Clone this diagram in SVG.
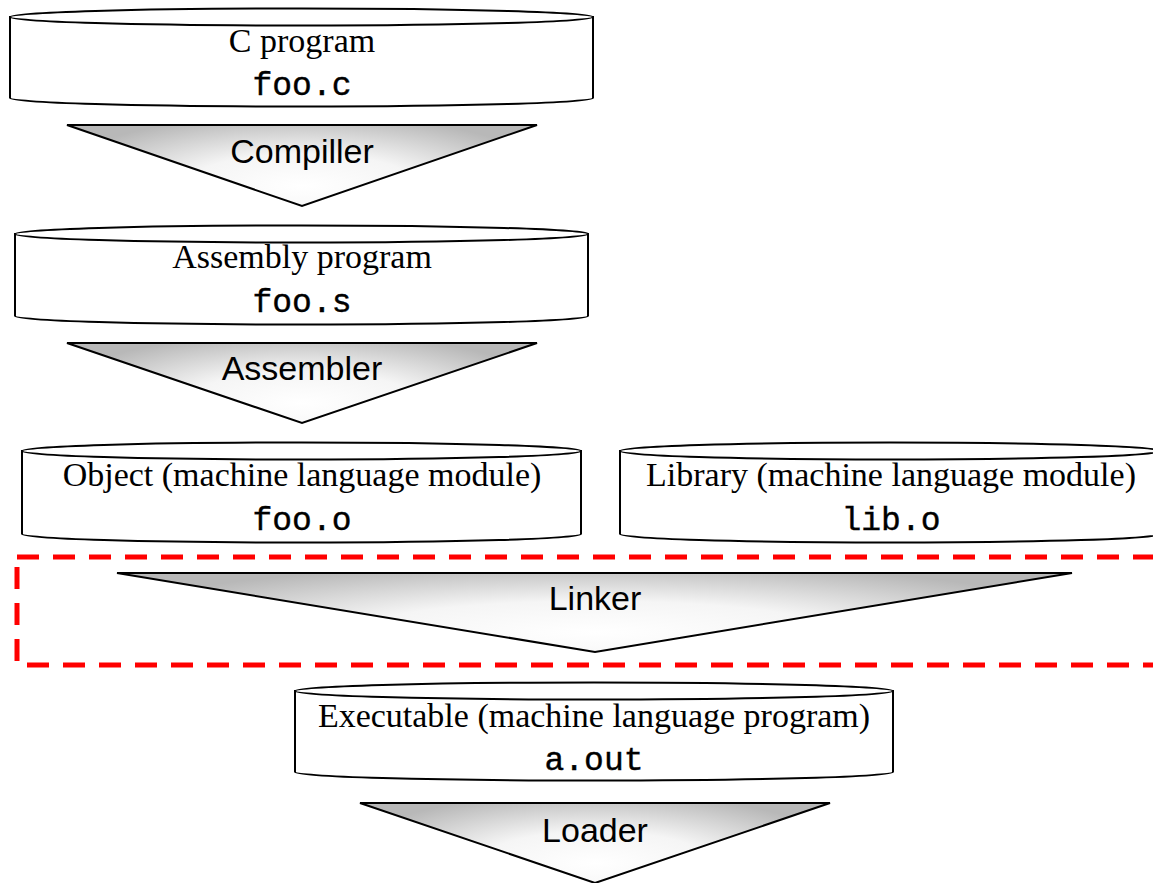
<svg xmlns="http://www.w3.org/2000/svg" width="1153" height="883" viewBox="0 0 1153 883">
<defs>
<radialGradient id="tg" cx="0.5" cy="0.75" r="0.55" gradientTransform="translate(0.5 0.75) scale(1 1.6) translate(-0.5 -0.75)">
<stop offset="0" stop-color="#ffffff"/>
<stop offset="0.45" stop-color="#f5f5f5"/>
<stop offset="1" stop-color="#b8b8b8"/>
</radialGradient>
<style>
.cyl{fill:#fff;stroke:#000;stroke-width:2}
.tri{fill:url(#tg);stroke:#000;stroke-width:2;stroke-linejoin:miter}
.serif{font-family:"Liberation Serif","Times New Roman",serif;font-size:34px;fill:#000;text-anchor:middle}
.mono{font-family:"Liberation Mono","Courier New",monospace;font-size:33px;fill:#000;stroke:#000;stroke-width:0.4;text-anchor:middle}
.sans{font-family:"Liberation Sans",Arial,sans-serif;font-size:34px;fill:#000;text-anchor:middle}
.frame{fill:none;stroke:#ff0000;stroke-width:5;stroke-dasharray:22 14}
</style>
</defs>
<rect width="1153" height="883" fill="#fff"/>
<g id="linker-frame"><rect class="frame" x="17" y="557" width="1150" height="108"/></g>
<g id="c-program">
<path class="cyl" d="M10,17 L10,98 A291.5,8.5 0 0 0 593,98 L593,17 Z"/>
<ellipse class="cyl" cx="301.5" cy="17" rx="291.5" ry="8.5"/>
<text class="serif" x="302" y="52">C program</text>
<text class="mono" x="302" y="95">foo.c</text>
</g>
<g id="compiler">
<polygon class="tri" points="67,125 537,125 302,206"/>
<text class="sans" x="302" y="163">Compiller</text>
</g>
<g id="assembly-program">
<path class="cyl" d="M15,234 L15,316 A286.5,8.5 0 0 0 588,316 L588,234 Z"/>
<ellipse class="cyl" cx="301.5" cy="234" rx="286.5" ry="8.5"/>
<text class="serif" x="302" y="268">Assembly program</text>
<text class="mono" x="302" y="312">foo.s</text>
</g>
<g id="assembler">
<polygon class="tri" points="67,343 537,343 302,423"/>
<text class="sans" x="302" y="380">Assembler</text>
</g>
<g id="object">
<path class="cyl" d="M22,451 L22,534 A279.5,8.5 0 0 0 581,534 L581,451 Z"/>
<ellipse class="cyl" cx="301.5" cy="451" rx="279.5" ry="8.5"/>
<text class="serif" x="302" y="486">Object (machine language module)</text>
<text class="mono" x="302" y="530">foo.o</text>
</g>
<g id="library">
<path class="cyl" d="M620,451 L620,534 A270,8.5 0 0 0 1160,534 L1160,451 Z"/>
<ellipse class="cyl" cx="890" cy="451" rx="270" ry="8.5"/>
<text class="serif" x="891" y="486">Library (machine language module)</text>
<text class="mono" x="891" y="530">lib.o</text>
</g>
<g id="linker">
<polygon class="tri" points="117,573 1072,573 595,652"/>
<text class="sans" x="595" y="610">Linker</text>
</g>
<g id="executable">
<path class="cyl" d="M295,691 L295,772 A299,8.5 0 0 0 893,772 L893,691 Z"/>
<ellipse class="cyl" cx="594" cy="691" rx="299" ry="8.5"/>
<text class="serif" x="594" y="727">Executable (machine language program)</text>
<text class="mono" x="594" y="770">a.out</text>
</g>
<g id="loader">
<polygon class="tri" points="360,803 830,803 595,883"/>
<text class="sans" x="595" y="842">Loader</text>
</g>
<g id="connectors"></g>
</svg>
